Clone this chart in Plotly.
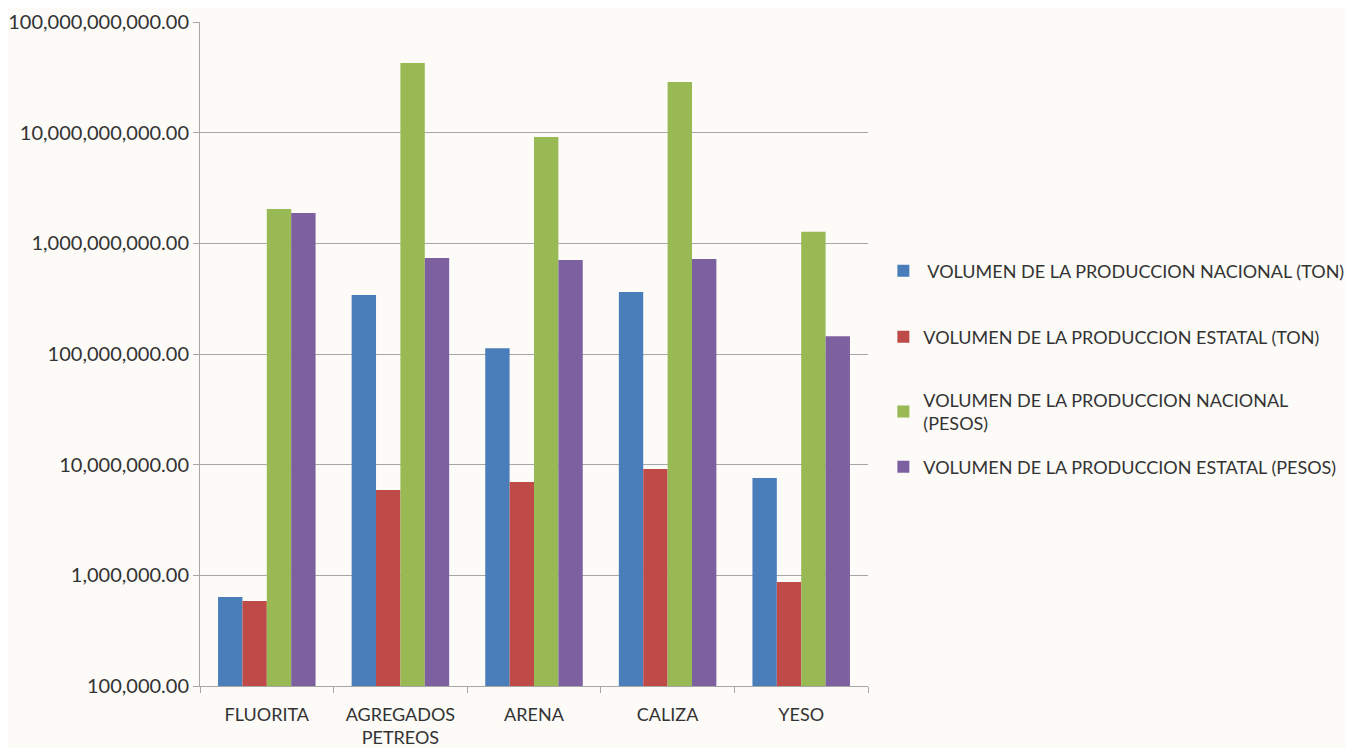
import plotly.graph_objects as go

categories = ["FLUORITA", "AGREGADOS<br>PETREOS", "ARENA", "CALIZA", "YESO"]
series_names = [
    " VOLUMEN DE LA PRODUCCION NACIONAL (TON)",
    "VOLUMEN DE LA PRODUCCION ESTATAL (TON)",
    "VOLUMEN DE LA PRODUCCION NACIONAL<br>(PESOS)",
    "VOLUMEN DE LA PRODUCCION ESTATAL (PESOS)",
]
nacional_ton = [637000, 341000000, 113000000, 363000000, 7570000]
estatal_ton = [586000, 5900000, 6970000, 9140000, 870000]
nacional_pesos = [2040000000, 42600000000, 9140000000, 28700000000, 1270000000]
estatal_pesos = [1880000000, 737000000, 707000000, 720000000, 145000000]
colors = ["#4a7ebb", "#be4b48", "#98b954", "#7d60a0"]
legend_ids = ["legend", "legend2", "legend3", "legend4"]
legend_y = [0.625, 0.5256, 0.4134, 0.3298]

fig = go.Figure()
for i, (name, vals) in enumerate(zip(series_names,
                                     [nacional_ton, estatal_ton, nacional_pesos, estatal_pesos])):
    fig.add_trace(go.Bar(x=categories, y=vals, name=name, marker_color=colors[i],
                         marker_line_width=0, legend=legend_ids[i]))

legend_common = dict(x=1.023, xanchor="left", yanchor="middle",
                     font=dict(size=18, color="#333333", family="Lato, Open Sans, sans-serif"),
                     bgcolor="rgba(0,0,0,0)", borderwidth=0)
layout_legends = {lid: dict(y=ly, **legend_common) for lid, ly in zip(legend_ids, legend_y)}

fig.update_layout(
    width=1354, height=748,
    margin=dict(l=192, r=494, t=14, b=70, autoexpand=False),
    paper_bgcolor="#fcfbf8", plot_bgcolor="rgba(0,0,0,0)",
    barmode="group", bargap=0.27, bargroupgap=0,
    font=dict(family="Lato, Open Sans, sans-serif", size=18, color="#333333"),
    showlegend=True,
    **layout_legends,
)
fig.update_yaxes(type="log", range=[5, 11], dtick=1, tickformat=",.2f",
                 showgrid=True, gridcolor="#a6a6a6", gridwidth=1,
                 showline=True, linecolor="#a6a6a6", linewidth=1,
                 ticks="outside", ticklen=6, tickcolor="#a6a6a6", automargin=False,
                 zeroline=False, tickfont=dict(size=20, color="#333333"))
fig.update_xaxes(showline=True, linecolor="#a6a6a6", linewidth=1,
                 ticks="outside", tickson="boundaries", ticklen=6, tickcolor="#a6a6a6",
                 ticklabelstandoff=12,
                 showgrid=False, automargin=False, tickfont=dict(size=18, color="#333333"))

fig.write_html("out.html")
